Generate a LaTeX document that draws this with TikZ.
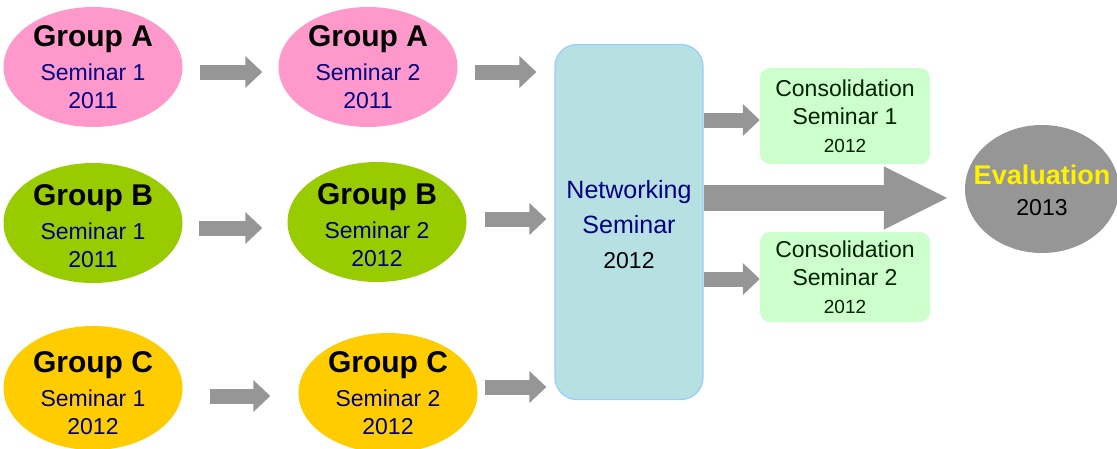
\documentclass[tikz,border=0pt]{standalone}
\usepackage{fontspec}
\setmainfont{Liberation Sans}
\usetikzlibrary{arrows.meta,shapes.geometric,calc}
\definecolor{pinkA}{HTML}{FF99CC}
\definecolor{greenB}{HTML}{99CC00}
\definecolor{yellowC}{HTML}{FFCC00}
\definecolor{netfill}{HTML}{B7E0E3}
\definecolor{netline}{HTML}{99CCFF}
\definecolor{consfill}{HTML}{CCFFCC}
\definecolor{arrowgray}{HTML}{969696}
\definecolor{navytext}{HTML}{000080}
\definecolor{darkgreentext}{HTML}{002200}
\newcommand{\grouptext}[3]{{\fontsize{30}{28}\selectfont\bfseries #1}\\[6pt]{\color{navytext}#2}\\{\color{navytext}#3}}
\tikzset{
  grp/.style={ellipse, inner sep=0pt, minimum width=179pt, minimum height=120pt},
  grptext/.style={inner sep=0pt, align=center, text=black, font=\fontsize{23}{28}\selectfont},
  blockarrow/.style={draw=arrowgray, line width=15pt, -{Triangle[length=17pt,width=31pt]}},
  bigarrow/.style={draw=arrowgray, line width=26pt, -{Triangle[length=65pt,width=58pt]}},
  consbox/.style={rectangle, rounded corners=10pt, fill=consfill, minimum width=170pt, minimum height=96pt, align=center, text=darkgreentext, inner sep=0pt, font=\fontsize{23}{28}\selectfont}
}
\begin{document}
\begin{tikzpicture}[x=1pt,y=-1pt]
\useasboundingbox (0,0) rectangle (1117,448);
% groups
\node[grp, fill=pinkA] (a1) at (93,67) {};
\node[grptext] (a1t) at (a1.center) {\grouptext{Group A}{Seminar 1}{2011}};
\node[grp, fill=pinkA] (a2) at (368,67) {};
\node[grptext] (a2t) at (a2.center) {\grouptext{Group A}{Seminar 2}{2011}};
\node[grp, fill=greenB] (b1) at (93,223) {};
\node[grptext] (b1t) at ([yshift=-3pt]b1.center) {\grouptext{Group B}{Seminar 1}{2011}};
\node[grp, fill=greenB] (b2) at (377,222) {};
\node[grptext] (b2t) at ([yshift=-3pt]b2.center) {\grouptext{Group B}{Seminar 2}{2012}};
\node[grp, fill=yellowC, minimum height=124pt] (c1) at (93,388) {};
\node[grptext] (c1t) at ([yshift=-5pt]c1.center) {\grouptext{Group C}{Seminar 1}{2012}};
\node[grp, fill=yellowC] (c2) at (388,393) {};
\node[grptext] (c2t) at (c2.center) {\grouptext{Group C}{Seminar 2}{2012}};
% networking
\node[rectangle, rounded corners=22pt, fill=netfill, draw=netline, line width=1.2pt, minimum width=148pt, minimum height=355pt, inner sep=0pt, align=center, font=\fontsize{25}{35}\selectfont] (net) at (629,222) {};
\node[inner sep=0pt, align=center, font=\fontsize{25}{35}\selectfont] (nett) at ([yshift=-3pt]net.center)
  {{\color{navytext}Networking}\\{\color{navytext}Seminar}\\{\fontsize{23}{23}\selectfont 2012}};
% consolidation
\node[consbox] (k1) at (845,116) {Consolidation\\Seminar 1\\{\fontsize{19}{19}\selectfont 2012}};
\node[consbox, minimum height=90pt] (k2) at (845,277) {Consolidation\\Seminar 2\\{\fontsize{19}{19}\selectfont 2012}};
% evaluation
\node[ellipse, fill=arrowgray, minimum width=154pt, minimum height=128pt, inner sep=0pt] (ev) at (1042,189) {};
\node[inner sep=0pt, align=center, font=\fontsize{23}{31}\selectfont] (evt) at ([yshift=-1pt]ev.center)
  {{\fontsize{27}{27}\selectfont\bfseries\color{yellow}Evaluation}\\2013};
% arrows
\draw[blockarrow] ([xshift=17pt,yshift=-5pt]a1.east) -- ([xshift=-16pt,yshift=-5pt]a2.west);
\draw[blockarrow] ([xshift=17pt,yshift=-5pt]a2.east) -- ([xshift=-18pt,yshift=-5pt]net.west |- a2.east);
\draw[blockarrow] ([xshift=16pt,yshift=-5pt]b1.east) -- ([xshift=-25pt,yshift=-6pt]b2.west);
\draw[blockarrow] ([xshift=18pt,yshift=3pt]b2.east) -- ([xshift=-8pt,yshift=3pt]net.west |- b2.east);
\draw[blockarrow] ([xshift=27pt,yshift=-8pt]c1.east) -- ([xshift=-28pt,yshift=-3pt]c2.west);
\draw[blockarrow] ([xshift=7pt,yshift=6pt]c2.east) -- ([xshift=-8pt,yshift=6pt]net.west |- c2.east);
\draw[blockarrow] (net.east |- 0,120) -- (k1.west |- 0,120);
\draw[blockarrow] (net.east |- 0,279) -- (k2.west |- 0,279);
\draw[bigarrow] (net.east |- 0,198) -- ([xshift=-16pt]ev.west |- 0,198);
\end{tikzpicture}
\end{document}
